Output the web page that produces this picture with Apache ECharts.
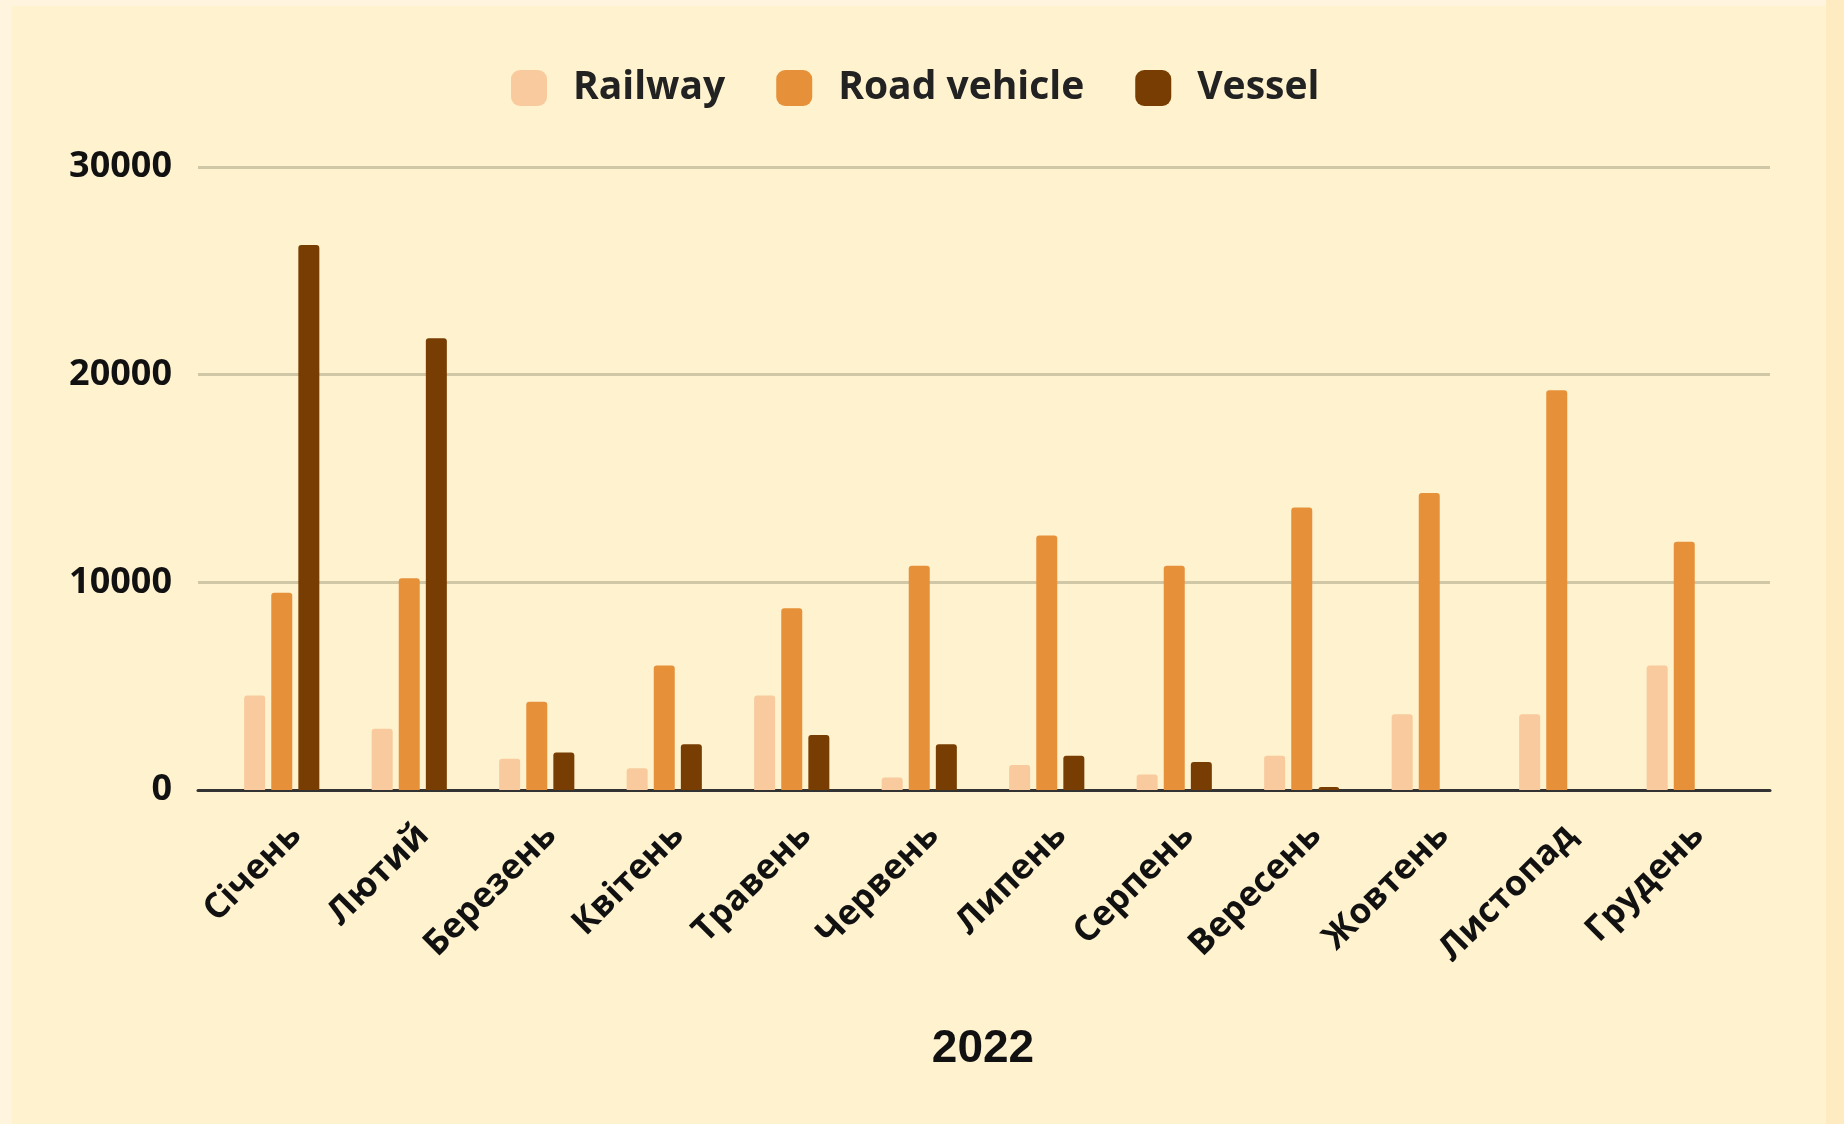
<!DOCTYPE html>
<html>
<head>
<meta charset="utf-8">
<script src="https://cdn.jsdelivr.net/npm/echarts@6/dist/echarts.min.js"></script>
<style>
  html, body { margin:0; padding:0; background:#FFF4DD; }
  #chart { width:1844px; height:1124px; }
</style>
</head>
<body>
<div id="chart"></div>
<script>
// місяці 2022
var months = ['Січень','Лютий','Березень','Квітень','Травень','Червень','Липень','Серпень','Вересень','Жовтень','Листопад','Грудень']
var railway = [4550, 2950, 1500, 1050, 4550, 600, 1200, 750, 1650, 3650, 3650, 6000]
var roadVehicle = [9500, 10200, 4250, 6000, 8750, 10800, 12250, 10800, 13600, 14300, 19250, 11950]
var vessel = [26250, 21750, 1800, 2200, 2650, 2200, 1650, 1350, 150, 0, 0, 0]
var yTicks = [0, 10000, 20000, 30000]

var colors = ['#F8CA9D', '#E6913A', '#783D02']
var font = '"Open Sans", "Noto Sans", sans-serif'

var chart = echarts.init(document.getElementById('chart'))

function barSeries(name, data, color) {
    return {
        name: name,
        type: 'bar',
        xAxisIndex: 0,
        yAxisIndex: 0,
        data: data,
        barWidth: 21,
        barGap: '29%',
        itemStyle: { color: color, borderRadius: [3, 3, 0, 0] }
    }
}

var option = {
    backgroundColor: '#FFF4DD',
    animation: false,
    color: colors,
    graphic: [
        { type: 'rect', left: 1826, top: 0, shape: { width: 18, height: 1124 }, style: { fill: '#FFEBC2' }, z: -10 },
        { type: 'rect', left: 12, top: 6, shape: { width: 1814, height: 1118 }, style: { fill: '#FFF2CF' }, z: -10 }
    ],
    legend: {
        left: 506,
        top: 58,
        icon: 'roundRect',
        itemWidth: 36,
        itemHeight: 36,
        itemGap: 51,
        data: ['Railway', 'Road vehicle', 'Vessel'],
        textStyle: {
            fontFamily: font,
            fontSize: 39,
            fontWeight: 'bold',
            color: '#222',
            lineHeight: 50,
            padding: [0, 0, 0, 21]
        }
    },
    grid: [
        // для стовпців
        { left: 218, right: 96, top: 167, bottom: 334 },
        // для сітки і осі, трохи ширше
        { left: 198, right: 74, top: 167, bottom: 334 },
        // підписи місяців, трохи зсунуті вправо
        { left: 232, right: 82, top: 167, bottom: 334 }
    ],
    xAxis: [
        {
            gridIndex: 0,
            type: 'category',
            data: months,
            axisLine: { show: false },
            axisTick: { show: false },
            axisLabel: { show: false },
            name: '2022',
            nameLocation: 'middle',
            nameGap: 236,
            nameTextStyle: {
                fontFamily: '"Liberation Sans", Arial, sans-serif',
                fontSize: 46,
                fontWeight: 'bold',
                color: '#111'
            }
        },
        {
            gridIndex: 1,
            type: 'value',
            min: 0,
            max: 1,
            axisLine: { show: true, lineStyle: { color: '#333', width: 3 } },
            axisTick: { show: false },
            axisLabel: { show: false },
            splitLine: { show: false }
        },
        {
            gridIndex: 2,
            type: 'category',
            data: months,
            axisLine: { show: false },
            axisTick: { show: false },
            splitLine: { show: false },
            axisLabel: {
                rotate: 45,
                margin: 40,
                interval: 0,
                fontFamily: font,
                fontSize: 35,
                fontWeight: 'bold',
                color: '#111'
            }
        }
    ],
    yAxis: [
        {
            gridIndex: 0,
            type: 'value',
            min: yTicks[0],
            max: yTicks[yTicks.length - 1],
            interval: 10000,
            show: false,
            splitLine: { show: false }
        },
        {
            gridIndex: 1,
            type: 'value',
            min: yTicks[0],
            max: yTicks[yTicks.length - 1],
            interval: 10000,
            axisLine: { show: false },
            axisTick: { show: false },
            axisLabel: {
                margin: 26,
                fontFamily: font,
                fontSize: 36,
                fontWeight: 'bold',
                color: '#111',
                formatter: function (v) { return String(v) }
            },
            splitLine: { lineStyle: { color: '#D0C7A7', width: 3 } }
        },
        {
            gridIndex: 2,
            type: 'value',
            min: 0,
            max: 1,
            show: false,
            splitLine: { show: false }
        }
    ],
    series: [
        barSeries('Railway', railway, colors[0]),
        barSeries('Road vehicle', roadVehicle, colors[1]),
        barSeries('Vessel', vessel, colors[2])
    ]
}

chart.setOption(option)
</script>
</body>
</html>
